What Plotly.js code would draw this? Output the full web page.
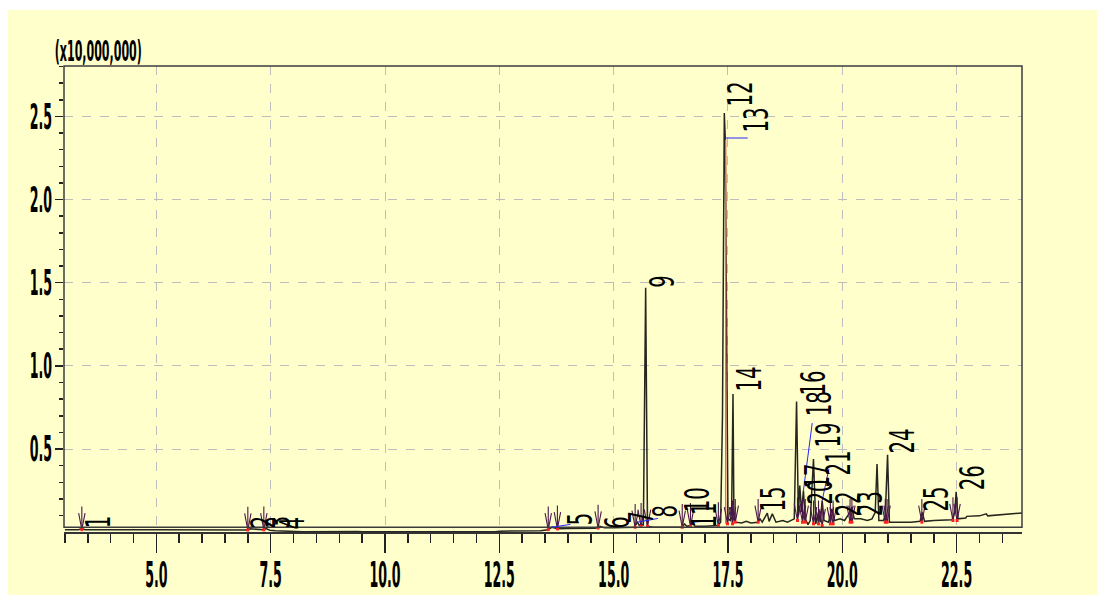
<!DOCTYPE html>
<html>
<head>
<meta charset="utf-8">
<script src="https://cdn.plot.ly/plotly-3.0.1.min.js"></script>
<style>
  html, body { margin: 0; padding: 0; background: #ffffff; }
  #chart { width: 1102px; height: 608px; }
  #chart text { font-stretch: semi-condensed; }
</style>
</head>
<body>
<div id="chart"></div>
<script>
// ---- Chromatogram data (retention time in min, intensity in units of 10,000,000) ----
const trTime = [
  3.00, 3.30, 3.37, 3.44, 5.00, 6.90, 7.00, 7.05, 7.30, 7.35,
  7.40, 7.48, 7.60, 8.10, 8.20, 9.40, 9.50, 12.40, 12.50, 13.40,
  13.57, 13.65, 13.77, 14.00, 14.60, 14.70, 14.80, 15.00, 15.45, 15.52,
  15.56, 15.60, 15.65, 15.70, 15.74, 15.85, 16.20, 16.50, 16.55, 16.60,
  16.68, 16.72, 16.78, 17.00, 17.28, 17.34, 17.38, 17.40, 17.42, 17.44,
  17.46, 17.48, 17.50, 17.55, 17.58, 17.61, 17.63, 17.66, 17.80, 17.90,
  18.00, 18.16, 18.20, 18.25, 18.36, 18.40, 18.47, 18.55, 18.70, 18.80,
  18.95, 19.00, 19.04, 19.07, 19.11, 19.15, 19.19, 19.25, 19.30, 19.37,
  19.42, 19.48, 19.52, 19.56, 19.60, 19.70, 19.77, 19.83, 19.95, 20.05,
  20.17, 20.21, 20.26, 20.40, 20.55, 20.65, 20.72, 20.76, 20.80, 20.90,
  20.94, 20.99, 21.03, 21.20, 21.50, 21.70, 21.75, 21.80, 22.00, 22.40,
  22.46, 22.49, 22.53, 22.70, 22.72, 23.00, 23.15, 23.18, 23.50, 23.60,
  23.93
];
const trInt = [
  0.015, 0.015, 0.022, 0.015, 0.014, 0.013, 0.013, 0.020, 0.012, 0.014,
  0.022, 0.012, 0.008, 0.006, 0.003, 0.004, 0.002, 0.003, 0.006, 0.008,
  0.015, 0.030, 0.020, 0.022, 0.024, 0.035, 0.026, 0.027, 0.030, 0.060,
  0.040, 0.050, 0.040, 1.470, 0.035, 0.030, 0.032, 0.030, 0.050, 0.035,
  0.040, 0.060, 0.035, 0.035, 0.040, 0.060, 0.700, 1.600, 2.520, 2.370,
  1.500, 0.300, 0.080, 0.070, 0.120, 0.830, 0.100, 0.060, 0.055, 0.065,
  0.055, 0.060, 0.080, 0.060, 0.115, 0.065, 0.110, 0.060, 0.070, 0.060,
  0.080, 0.785, 0.100, 0.280, 0.120, 0.250, 0.080, 0.045, 0.070, 0.440,
  0.050, 0.120, 0.060, 0.190, 0.070, 0.060, 0.140, 0.070, 0.080, 0.070,
  0.120, 0.150, 0.080, 0.080, 0.070, 0.080, 0.120, 0.410, 0.070, 0.070,
  0.100, 0.465, 0.060, 0.060, 0.060, 0.065, 0.118, 0.065, 0.070, 0.075,
  0.120, 0.243, 0.080, 0.085, 0.095, 0.098, 0.110, 0.098, 0.105, 0.110,
  0.115
];

// Identified peaks
const peakNo     = ['1','2','3','4','5','6','7','8','9','10','11','12','13',
                    '14','15','16','17','18','19','20','21','22','23','24','25','26'];
const peakTime   = [3.37, 7.05, 7.40, 7.60, 13.65, 14.70, 15.52, 15.60, 15.70, 16.55, 16.72, 17.42, 17.44,
                    17.61, 18.36, 19.00, 19.07, 19.15, 19.37, 19.48, 19.56, 20.21, 20.76, 20.99, 21.75, 22.49];
const peakHeight = [0.022, 0.020, 0.022, 0.008, 0.030, 0.035, 0.060, 0.050, 1.470, 0.050, 0.060, 2.520, 2.370,
                    0.830, 0.115, 0.785, 0.280, 0.250, 0.440, 0.120, 0.190, 0.150, 0.410, 0.465, 0.118, 0.243];

// Integration start/end marks
const markTime   = [3.37, 7.00, 7.35, 13.57, 13.77, 14.66, 15.47, 15.60, 15.74, 16.50, 16.68, 17.29, 17.49,
                    17.60, 17.66, 18.16, 19.02, 19.13, 19.19, 19.37, 19.48, 19.56, 19.74, 19.80, 20.17, 20.21,
                    20.94, 20.98, 21.74, 22.42, 22.51];
const markLevel  = [0.015, 0.013, 0.014, 0.015, 0.020, 0.025, 0.030, 0.035, 0.035, 0.030, 0.035, 0.040, 0.050,
                    0.050, 0.060, 0.060, 0.070, 0.060, 0.060, 0.050, 0.050, 0.040, 0.050, 0.050, 0.060, 0.060,
                    0.060, 0.060, 0.060, 0.070, 0.070];

// Integration line of the main peak
const redTime = [17.45, 17.45];
const redInt  = [2.36, 0.05];

// Axis ticks
const yTickVals = [0.5, 1.0, 1.5, 2.0, 2.5];
const yTickText = ['0.5', '1.0', '1.5', '2.0', '2.5'];
const xTickVals = [5.0, 7.5, 10.0, 12.5, 15.0, 17.5, 20.0, 22.5];
const xTickText = ['5.0', '7.5', '10.0', '12.5', '15.0', '17.5', '20.0', '22.5'];
const scaleLabel = '(x10,000,000)';

// ---- style: label pixel offsets [dx, dy] and leader lines [peak index, ax, ay] ----
const labelOffset = [
  [-3, -1.5], [-6, -2], [-7, -2.5], [-2, -1], [9, 0.2], [-2, -4], [-15.5, -2.8],
  [4.9, 4.9], [-3, -2], [-6.6, 10], [-7.3, -7.8], [-3.3, 4], [11.8, 3],
  [-3, 0], [-13.3, -1], [-2.6, 4.6], [-1.8, -4.4], [-3.5, 72.6], [-4.5, 10],
  [-17.5, 5.2], [-3.2, 23.6], [-22.9, -10.8], [-26.1, -54], [-4.6, -0.2],
  [-4.4, -0.5], [-3.2, -0.2]
];
const leaders = [[4, 20, -3], [6, 22, -4], [10, 13, -1], [12, 24, 0], [17, 9, -69], [20, 7, -33]];
const FONT = '"DejaVu Sans Condensed", "DejaVu Sans", sans-serif';
const BG = '#FFFFCC';
const LABEL_SIZE = 34, LABEL_ADV = 19.4, LABEL_STEP = 12.5;   // peak-label glyph metrics (px)
const TICK_SQUEEZE = 0.40, SCALE_LABEL_W = 87;
const XLABEL_NUDGE = 'translate(0,-8)', YLABEL_NUDGE = 'translate(4,0)';

// purple marks built from the mark arrays
const mx = [], my = [];
markTime.forEach((t, i) => {
  const b = markLevel[i];
  mx.push(t - 0.07, t, t + 0.07, null, t, t, null);
  my.push(b + 0.10, b, b + 0.10, null, b, b + 0.14, null);
});

const traces = [
  {x: trTime, y: trInt, type: 'scatter', mode: 'lines',
   line: {color: '#26261e', width: 1.5}, hoverinfo: 'x+y', showlegend: false},
  {x: redTime, y: redInt, type: 'scatter', mode: 'lines',
   line: {color: '#ff6040', width: 1.3}, showlegend: false},
  {x: mx, y: my, type: 'scatter', mode: 'lines',
   line: {color: '#4a1848', width: 1.1}, showlegend: false, hoverinfo: 'skip'},
  {x: markTime, y: markLevel, type: 'scatter', mode: 'markers',
   marker: {color: '#ff2020', size: 3, symbol: 'square'}, showlegend: false, hoverinfo: 'skip'}
];

const annotations = [];
leaders.forEach(l => {
  annotations.push({
    x: peakTime[l[0]], y: peakHeight[l[0]], xref: 'x', yref: 'y', text: '',
    showarrow: true, ax: l[1], ay: l[2], arrowhead: 0, arrowwidth: 1,
    arrowcolor: '#2828ff', standoff: 0, startstandoff: 0
  });
});
peakNo.forEach((txt, i) => {
  const o = labelOffset[i];
  annotations.push({
    x: peakTime[i], y: peakHeight[i], xref: 'x', yref: 'y',
    text: txt, textangle: -90, xanchor: 'left', yanchor: 'bottom',
    showarrow: false,
    xshift: o[0] - 3,
    yshift: o[1] - txt.length * (LABEL_ADV - LABEL_STEP) / 2,
    font: {family: FONT, size: LABEL_SIZE, color: '#000000'}
  });
});
annotations.push({
  x: 0.036, y: 0.991, xref: 'paper', yref: 'paper', xanchor: 'center', yanchor: 'bottom',
  text: '<b>' + scaleLabel + '</b>', showarrow: false,
  font: {family: FONT, size: 28, color: '#000000'}
});

const tickFont = {family: FONT, size: 35, color: '#000000', weight: 'bold'};
const layout = {
  width: 1102, height: 608,
  margin: {l: 64, r: 80, t: 66, b: 76},
  paper_bgcolor: '#ffffff',
  plot_bgcolor: BG,
  showlegend: false,
  xaxis: {
    range: [2.98, 23.93],
    tickmode: 'array', tickvals: xTickVals, ticktext: xTickText,
    ticks: 'outside', ticklen: 19, tickwidth: 1.5, tickcolor: '#222222',
    minor: {dtick: 0.5, tick0: 0, ticks: 'outside', ticklen: 9, tickwidth: 1.5, tickcolor: '#222222', showgrid: false},
    showline: true, linecolor: '#333333', linewidth: 1.5,
    showgrid: true, gridcolor: '#bdbdbd', griddash: 'dash', gridwidth: 1,
    zeroline: false, tickfont: tickFont
  },
  yaxis: {
    range: [0.001, 2.803],
    tickmode: 'array', tickvals: yTickVals, ticktext: yTickText,
    ticks: 'outside', ticklen: 8, tickwidth: 1.5, tickcolor: '#222222',
    minor: {dtick: 0.1, tick0: 0, ticks: 'outside', ticklen: 4, tickwidth: 1.5, tickcolor: '#222222', showgrid: false},
    showline: false,
    showgrid: true, gridcolor: '#bdbdbd', griddash: 'dash', gridwidth: 1,
    zeroline: false, tickfont: tickFont
  },
  shapes: [
    {type: 'rect', xref: 'paper', yref: 'paper', x0: -0.0585, x1: 1.0783, y0: -0.1352, y1: 1.1202,
     fillcolor: BG, line: {width: 0}, layer: 'below'},
    {type: 'rect', xref: 'paper', yref: 'paper', x0: 0, x1: 1, y0: 0.01, y1: 1,
     line: {color: '#3c3c3c', width: 1.5}, fillcolor: 'rgba(0,0,0,0)', layer: 'above'}
  ],
  annotations: annotations
};

function squeeze(el, len) {
  el.setAttribute('textLength', len);
  el.setAttribute('lengthAdjust', 'spacingAndGlyphs');
}
function nudge(el, t) {
  el.setAttribute('transform', ((el.getAttribute('transform') || '') + ' ' + t).trim());
}

Plotly.newPlot('chart', traces, layout, {displayModeBar: false, staticPlot: true}).then(gd => {
  gd.querySelectorAll('.xtick text').forEach(el => {
    squeeze(el, el.getComputedTextLength() * TICK_SQUEEZE);
    nudge(el, XLABEL_NUDGE);
  });
  gd.querySelectorAll('.ytick text').forEach(el => {
    squeeze(el, el.getComputedTextLength() * TICK_SQUEEZE);
    nudge(el, YLABEL_NUDGE);
  });
  gd.querySelectorAll('.annotation-text').forEach(el => {
    const s = el.textContent;
    if (!s) return;
    if (s === scaleLabel) squeeze(el, SCALE_LABEL_W);
    else squeeze(el, s.length * LABEL_STEP);
  });
});
</script>
</body>
</html>
